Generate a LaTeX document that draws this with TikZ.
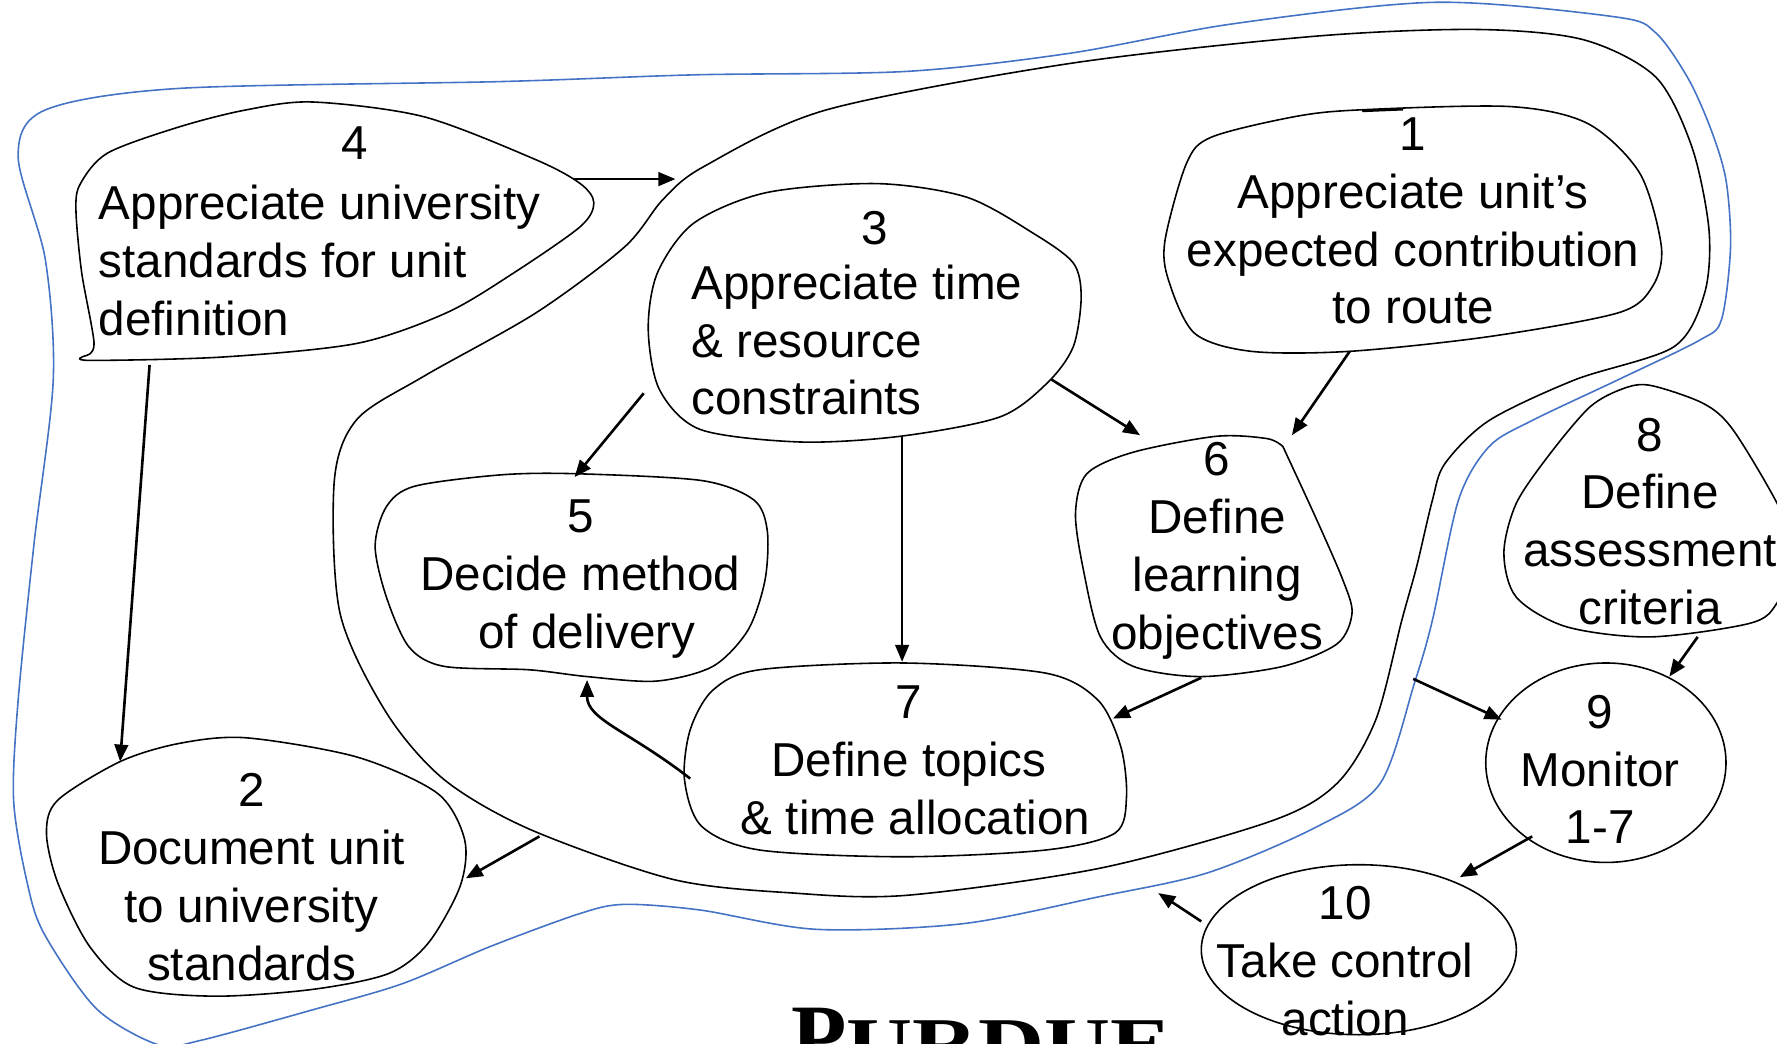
\documentclass[tikz,border=0pt]{standalone}
\usepackage{fontspec}
\setmainfont{Liberation Sans}
\newfontfamily\logofont{Liberation Serif}
\usetikzlibrary{arrows.meta}
\definecolor{edgeblue}{RGB}{68,114,196}
\tikzset{
  blob/.style={draw=black, line width=1.4pt},
  boundary/.style={draw=edgeblue, line width=1.4pt},
  txt/.style={inner sep=0pt, font=\fontsize{42}{51}\selectfont, align=center},
  flow/.style={draw=black, line width=2.3pt, -{Triangle[length=15pt,width=12pt]}},
}
\begin{document}
\begin{tikzpicture}[x=1pt,y=-1pt]
\useasboundingbox (0,0) rectangle (1568,921);
\clip (0,0) rectangle (1568,921);

% outer blue boundary
\draw[boundary] plot[smooth cycle] coordinates {
 (16,138) (40,97) (158,78) (441,72) (614,66) (800,63) (944,47) (1088,21)
 (1267,2) (1426,15) (1461,29) (1490,70) (1510,115) (1523,159) (1527,218)
 (1519,282) (1500,300) (1428,335) (1352,371) (1314,394) (1287,441) (1264,547)
 (1248,603) (1218,691) (1161,730) (1066,770) (971,791) (850,815) (720,820)
 (618,803) (551,798) (512,806) (433,835) (355,868) (276,891) (177,918)
 (140,922) (85,890) (39,824) (24,779) (12,706) (16,618) (30,480) (47,335)
 (40,229)};

% inner black boundary around steps 1, 3, 5, 6, 7
\draw[blob] plot[smooth cycle] coordinates {
 (621,147) (729,97) (944,56) (1160,32) (1303,26) (1397,35) (1461,68)
 (1493,130) (1508,203) (1504,259) (1477,306) (1390,335) (1314,371)
 (1275,409) (1264,441) (1250,500) (1237,547) (1214,635) (1180,691)
 (1123,724) (971,766) (800,790) (700,788) (594,776) (468,732) (392,688)
 (341,629) (300,541) (295,424) (315,370) (374,332) (473,276) (551,218)
 (585,176)};

% step outlines
\draw[blob] plot[smooth cycle] coordinates {
 (1199,97) (1332,94) (1401,109) (1447,153) (1466,218) (1458,253) (1428,276)
 (1314,297) (1191,310) (1104,310) (1054,294) (1031,247) (1028,212)
 (1047,144) (1069,121) (1142,103)};
\draw[line width=2pt] (1202,98) -- (1238,96.5);

\draw[blob] plot[smooth cycle] coordinates {
 (217,651) (315,668) (386,700) (410,741) (406,782) (378,832) (343,859)
 (276,873) (189,879) (118,871) (79,835) (51,779) (41,735) (51,706)
 (106,672) (158,656)};

\draw[blob] plot[smooth cycle] coordinates {
 (774,162) (853,174) (912,206) (947,232) (954,262) (947,306) (924,338)
 (882,368) (794,385) (706,390) (618,379) (582,344) (572,291) (580,241)
 (612,197) (676,170)};

\draw[blob] plot[smooth] coordinates {
 (75,314) (83,303) (72,240) (67,185) (71,162) (95,135) (158,112) (217,97)
 (276,90) (374,103) (473,141) (512,162) (524,179) (512,200) (453,241)
 (394,276) (315,303) (197,315) (79,318) (75,314)};

\draw[blob] plot[smooth cycle] coordinates {
 (508,418) (619,424) (665,441) (677,468) (675,512) (660,556) (629,588)
 (579,601) (518,597) (467,591) (392,588) (361,571) (341,527) (331,482)
 (341,447) (366,429) (442,419)};

\draw[blob] plot[smooth] coordinates {
 (1132,394) (1162,459) (1185,512) (1193,541) (1180,568) (1132,588)
 (1059,597) (1000,588) (971,562) (956,503) (949,453) (959,418) (1000,399)
 (1073,385) (1118,387) (1132,394)};

\draw[blob] plot[smooth cycle] coordinates {
 (797,585) (923,594) (969,618) (989,659) (994,703) (984,735) (923,750)
 (797,756) (670,750) (619,729) (604,688) (609,644) (629,609) (670,591)};

\draw[blob] plot[smooth cycle] coordinates {
 (1456,340) (1503,356) (1529,379) (1568,444) (1585,488) (1568,532)
 (1544,550) (1456,562) (1382,553) (1338,527) (1327,488) (1338,444)
 (1368,400) (1403,359) (1432,343)};

\draw[blob] (1417,673) ellipse [x radius=106, y radius=88];
\draw[blob] (1199,838) ellipse [x radius=139, y radius=75];

% step texts
\node[txt] (t1) at (1247,195) {1\\Appreciate unit’s\\expected contribution\\to route};
\node[txt] (t2) at (222,774) {2\\Document unit\\to university\\standards};
\node[txt] (t3num) at (772,201) {3};
\node[txt, align=left, anchor=west] (t3) at (610,300) {Appreciate time\\\& resource\\constraints};
\node[txt] (t4num) at (313,126) {4};
\node[txt, align=left, anchor=west] (t4) at (87,230) {Appreciate university\\standards for unit\\definition};
\node[txt] (t5) at (512,511) {5\\Decide method\\\ of delivery};
\node[txt] (t6) at (1074,486) {6\\Define\\learning\\objectives};
\node[txt] (t7) at (802,671) {7\\Define topics\\\ \& time allocation};
\node[txt] (t8) at (1456,460) {8\\Define\\assessment\\criteria};
\node[txt] (t9) at (1412,679) {9\\Monitor\\1-7};
\node[txt] (t10) at (1187,848) {10\\Take control\\action};

% connector end points on the outlines
\coordinate (s4e) at (506,158);  \coordinate (inN) at (596,158);
\coordinate (s4s) at (132,322);  \coordinate (s2n) at (106,672);
\coordinate (s3w) at (568,347);  \coordinate (s5n) at (507,421);
\coordinate (s3s) at (796,385);  \coordinate (s7n) at (796,584);
\coordinate (s3e) at (928,335);  \coordinate (s6nw) at (1006,384);
\coordinate (s1s) at (1191,310); \coordinate (s6ne) at (1140,384);
\coordinate (s6s) at (1060,598); \coordinate (s7e) at (982,634);
\coordinate (s7w) at (609,687);  \coordinate (s5s) at (518,600);
\coordinate (inSW) at (476,738); \coordinate (s2e) at (411,775);
\coordinate (s8s) at (1498,562); \coordinate (s9n) at (1473,597);
\coordinate (inE) at (1247,599); \coordinate (s9w) at (1325,635);
\coordinate (s9s) at (1352,738); \coordinate (s10n) at (1288,774);
\coordinate (s10w) at (1060,813); \coordinate (outS) at (1022,788);

\draw[flow] (s4e) -- (inN);
\draw[flow] (s4s) -- (s2n);
\draw[flow] (s3w) -- (s5n);
\draw[flow] (s3s) -- (s7n);
\draw[flow] (s3e) -- (s6nw);
\draw[flow] (s1s) -- (s6ne);
\draw[flow] (s6s) -- (s7e);
\draw[flow] (s7w) .. controls (555,645) and (518,635) .. (s5s);
\draw[flow] (inSW) -- (s2e);
\draw[flow] (s8s) -- (s9n);
\draw[flow] (inE) -- (s9w);
\draw[flow] (s9s) -- (s10n);
\draw[flow] (s10w) -- (outS);

% institution name along the lower edge
\node[inner sep=0pt, anchor=base west] (logo) at (698,942)
 {\logofont\bfseries\fontsize{80}{80}\selectfont P\fontsize{63}{63}\selectfont\scalebox{1.28}[1]{URDUE}};
\end{tikzpicture}
\end{document}
